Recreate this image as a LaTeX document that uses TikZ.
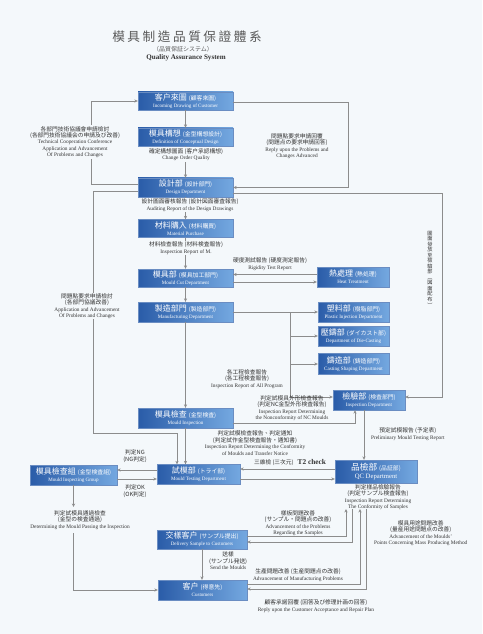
\documentclass[tikz,border=0pt]{standalone}
\usepackage{fontspec}
\setmainfont{Liberation Serif}
\newfontfamily\cjk{Noto Sans CJK TC}
\newfontfamily\cjkt[LetterSpace=20]{Noto Sans CJK TC}
\usetikzlibrary{arrows.meta,calc}
\definecolor{bgc}{HTML}{F4F8FB}
\definecolor{lc}{HTML}{8C8C8C}
\definecolor{boxL}{HTML}{2A5CA8}
\definecolor{boxR}{HTML}{74A8E0}
\definecolor{txt}{HTML}{333333}
\newcommand{\bxt}[3]{{\cjk\fontsize{6}{6.2}\selectfont #1\hspace{1.5pt}{\fontsize{4.4}{5}\selectfont #2}}\\[-1pt]{\fontsize{3.8}{4}\selectfont #3}}
\newcommand{\zh}[1]{{\cjk\fontsize{4.3}{4.8}\selectfont #1}}
\begin{document}
\begin{tikzpicture}[x=0.75pt,y=-0.75pt,
  mbox/.style={shading=axis,left color=boxL,right color=boxR,draw=boxL!70!white,line width=0.3pt,
    text=white,align=center,inner sep=0.5pt,minimum width=71.25pt,minimum height=13.5pt,
    font=\fontsize{6}{6.2}\selectfont},
  rbox/.style={mbox,minimum width=54pt,minimum height=15pt},
  lbl/.style={align=center,text=txt,fill=bgc,inner sep=0.6pt,font=\fontsize{4}{4.8}\selectfont},
  ln/.style={draw=lc,line width=0.7pt},
  ar/.style={ln,-{Stealth[length=2.6pt,width=2.4pt]}}]
\fill[bgc] (0,0) rectangle (482,634);
\useasboundingbox (0,0) rectangle (482,634);

% title
\node[text=gray!70!black,font=\cjkt\fontsize{9.5}{10}\selectfont] (title) at (187,37) {模具制造品質保證體系};
\node[text=gray!70!black,font=\cjk\fontsize{4.5}{5}\selectfont] (sub) at (183,49) {（品質保証システム）};
\node[text=txt,font=\bfseries\fontsize{5.3}{6}\selectfont] (eng) at (186,57.5) {Quality Assurance System};

% main column
\node[mbox] (n1) at (185.5,101) {\bxt{客户來圖}{(顧客來圖)}{Incoming Drawing of Customer}};
\node[mbox] (n2) at (185.5,137) {\bxt{模具構想}{(金型構想設計)}{Definition of Conceptual Design}};
\node[mbox,minimum height=14.25pt] (n3) at (185.5,187.5) {\bxt{設計部}{(設計部門)}{Design Department}};
\node[mbox] (n4) at (185.5,228.5) {\bxt{材料購入}{(材料購買)}{Material Purchase}};
\node[mbox] (n5) at (185.5,278) {\bxt{模具部}{(模具加工部門)}{Mould Cut Department}};
\node[mbox,minimum height=15pt] (n6) at (185.5,312) {\bxt{製造部門}{(製造部門)}{Manufacturing Department}};
\node[mbox,minimum height=15pt] (n7) at (185.5,418) {\bxt{模具檢查}{(金型検査)}{Mould Inspection}};
\node[mbox,minimum width=62.25pt,minimum height=15pt] (n8) at (198.5,474.5) {\bxt{試模部}{(トライ部)}{Mould Testing Department}};
\node[mbox,minimum width=65.25pt,minimum height=15pt] (n9) at (73.5,475) {\bxt{模具檢查組}{(金型検査組)}{Mould Inspecting Group}};
\node[mbox,minimum width=61.5pt,minimum height=17.25pt] (n10) at (376,471.5) {{\cjk\fontsize{6.5}{7}\selectfont 品檢部\hspace{1.5pt}{\fontsize{4.4}{5}\selectfont (品証部)}}\\[-0.5pt]{\fontsize{5}{5.5}\selectfont QC Department}};
\node[rbox] (n11) at (369,400) {\bxt{檢驗部}{(検査部門)}{Inspection Department}};
\node[rbox] (heat) at (353,277) {\bxt{熱處理}{(熱処理)}{Heat Treatment}};
\node[rbox,minimum width=53.25pt] (p1) at (353.5,312) {\bxt{塑料部}{(樹脂部門)}{Plastic Injection Department}};
\node[rbox,minimum width=53.25pt] (p2) at (353.5,336) {\bxt{壓鑄部}{(ダイカスト部)}{Department of Die-Casting}};
\node[rbox,minimum width=53.25pt,minimum height=16pt] (p3) at (353.5,364) {\bxt{鑄造部}{(鋳造部門)}{Casting Shaping Department}};
\node[mbox,minimum width=67.5pt,minimum height=14.25pt] (n12) at (202,539.5) {\bxt{交樣客户}{(サンプル提出)}{Delivery Sample to Customers}};
\node[mbox,minimum width=66.75pt,minimum height=15pt] (n13) at (202.5,590) {\bxt{客户}{(得意先)}{Customers}};

% free-end coordinates
\coordinate (br) at (290,312);
\coordinate (qa) at (346,509);
\coordinate (qb) at (352,509);
\coordinate (qc) at (360,509);
\coordinate (qd) at (366,509);
\coordinate (a1) at ($(n11.south)+(-5,0)$);
\coordinate (a2) at ($(n11.south)+(-14,0)$);
\coordinate (a3) at ($(n8.north)+(-21.5,0)$);

% connectors of the main column
\draw[ar] (n1) -- (n2);
\draw[ar] (n2) -- (n3);
\draw[ar] (n3) -- (n4);
\draw[ar] (n4) -- (n5);
\draw[ar] (n5) -- (n6);
\draw[ar] (n6) -- (n7);
\draw[ar] (n7.south) -- (n7.south |- n8.north);

% left loops
\draw[ar] ($(n3.west)+(0,-3.5)$) -| (91,101) -- (n1.west);
\draw[ar] ($(n3.west)+(0,4)$) -| (93,433) -| (a3);

% right loops
\draw[ar] ($(n1.east)+(0,1)$) -| (348,187.5) -- (n3.east);
\draw[ar] ($(n3.east)+(0,5.5)$) -| (442,397) -- (n11.east |- 0,397);

% heat treatment
\draw[ar] (heat.west |- 0,274.5) -- (n5.east |- 0,274.5);
\draw[ar] (n5.east |- 0,282) -- (heat.west |- 0,282);

% manufacturing branches
\draw[ar] (n6.east) -- (p1.west);
\draw[ar] (br) |- (p2.west);
\draw[ar] (br) |- (p3.west);
\draw[ar] (br) |- (n11.west |- 0,397);

% inspection
\draw[ar] (n7.east |- 0,423) -| (a2);
\draw[ar] (a1) -- (a1 |- n10.north);

% testing
\draw[ar] (n10.west |- 0,469) -- (n8.east |- 0,469);
\draw[ar] (n8.east |- 0,479) -- (n10.west |- 0,479);
\draw[ar] (n8.west |- 0,470) -- (n9.east |- 0,470);
\draw[ar] (n9.east |- 0,479) -- (n8.west |- 0,479);
\draw[ar] (n9.south) -- (n9.south |- 0,507);
\draw[ar] (n9.south |- 0,533) |- (n13.west);
\draw[ar] (n12.south) -- (n12.south |- n13.north);

% QC to customers
\draw[ar] (n12.east |- 0,536) -| (qa);
\draw[ar] (qb) |- (n12.east |- 0,542);
\draw[ar] (n13.east |- 0,584) -| (qc);
\draw[ar] (qd) |- (n13.east |- 0,589);

% labels
\node[lbl] (l1) at (75,142) {\zh{各部門技術協議會申請檢討}\\\zh{(各部門技術協議会の申請及び改善)}\\Technical Cooperation Conference\\Application and Advancement\\Of Problems and Changes};
\node[lbl] (l2) at (297,146) {\zh{問題點要求申請回覆}\\\zh{(問題点の要求申請回答)}\\Reply upon the Problems and\\Changes Advanced};
\node[lbl] (l3) at (186,154.5) {\zh{確定構想圖面 (客户承認構想)}\\Change Order Quality};
\node[lbl] (l4) at (190,205) {\zh{設計圖面審核報告 (設計図面審査報告)}\\Auditing Report of the Design Drawings};
\node[lbl] (l5) at (186,248) {\zh{材料檢查報告 (材料検査報告)}\\Inspection Report of M.};
\node[lbl,fill=none] (l6) at (270,264) {\zh{硬度測試報告 (硬度測定報告)}\\Rigidity Test Report};
\node[lbl,fill=none,text width=6pt,font=\cjk\fontsize{3.9}{4.15}\selectfont] (l7) at (430,269) {圖\\面\\發\\放\\至\\檢\\驗\\部\\︵\\図\\面\\配\\布\\︶};
\node[lbl] (l8) at (87,306) {\zh{問題點要求申請檢討}\\\zh{(各部門協議改善)}\\Application and Advancement\\Of Problems and Changes};
\node[lbl,fill=none] (l9) at (247,379) {\zh{各工程檢查報告}\\\zh{(各工程検査報告)}\\Inspection Report of All Program};
\node[lbl,fill=none] (l10) at (292,408) {\zh{判定試模具外形檢查報告}\\\zh{(判定NC金型外形検査報告)}\\Inspection Report Determining\\the Nonconformity of NC Moulds};
\node[lbl,fill=none] (l11) at (255,443) {\zh{判定試模檢查報告、判定通知}\\\zh{(判定試作金型検査報告・通知書)}\\Inspection Report Determining the Conformity\\of Moulds and Transfer Notice};
\node[lbl,fill=none,anchor=west] (l12) at (370,434) {\zh{預定試模報告 (予定表)}\\Preliminary Mould Testing Report};
\node[lbl,fill=none] (l13) at (135,456) {\zh{判定NG}\\\zh{(NG判定)}};
\node[lbl,fill=none] (l14) at (135,491) {\zh{判定OK}\\\zh{(OK判定)}};
\node[lbl,fill=none] (l15) at (290,463) {\zh{三維檢 (三次元)}\hspace{3pt}{\bfseries\fontsize{5.5}{6}\selectfont T2 check}};
\node[lbl,fill=none] (l16) at (378,497) {\zh{判定樣品檢驗報告}\\\zh{(判定サンプル検査報告)}\\Inspection Report Determining\\The Conformity of Samples};
\node[lbl] (l17) at (80,520) {\zh{判定試模具通過檢查}\\\zh{(金型の検査通過)}\\Determining the Mould Passing the Inspection};
\node[lbl,fill=none] (l18) at (298,523) {\zh{樣板問題改善}\\\zh{(サンプル・問題点の改善)}\\Advancement of the Problems\\Regarding the Samples};
\node[lbl,fill=none,anchor=west] (l19) at (373,533) {\zh{模具用途問題改善}\\\zh{(量産用途問題点の改善)}\\Advancement of the Moulds'\\Points Concerning Mass Producing Method};
\node[lbl,fill=none,anchor=west] (l20) at (208,561) {\zh{送樣}\\\zh{(サンプル発送)}\\Send the Moulds};
\node[lbl,fill=none] (l21) at (298,575) {\zh{生產問題改善 (生産問題点の改善)}\\Advancement of Manufacturing Problems};
\node[lbl,fill=none] (l22) at (316,606) {\zh{顧客承諾回覆 (回答及び修理計画の回答)}\\Reply upon the Customer Acceptance and Repair Plan};
\end{tikzpicture}
\end{document}
